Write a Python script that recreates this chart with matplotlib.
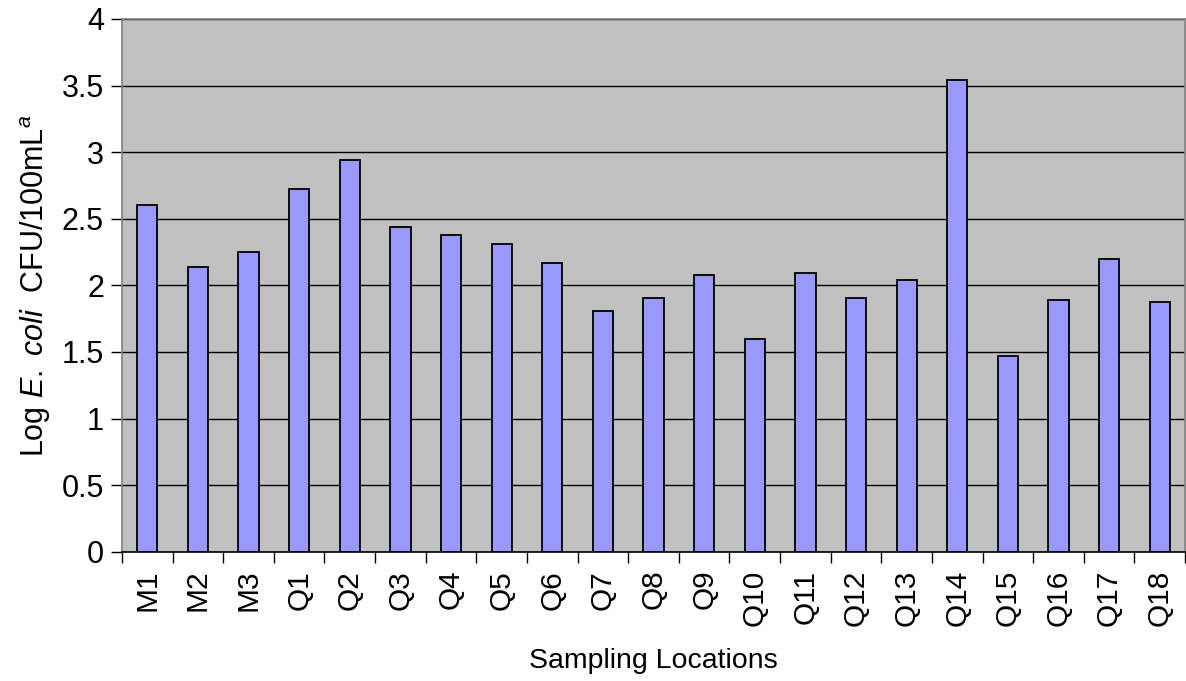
import matplotlib
matplotlib.use("Agg")
import matplotlib.pyplot as plt
import numpy as np

plt.rcParams["font.family"] = ["Liberation Sans", "DejaVu Sans"]
plt.rcParams["mathtext.fontset"] = "custom"
plt.rcParams["mathtext.rm"] = "Liberation Sans"
plt.rcParams["mathtext.it"] = "Liberation Sans:italic"

#  Data 
locations = ["M1", "M2", "M3", "Q1", "Q2", "Q3", "Q4", "Q5", "Q6", "Q7", "Q8",
             "Q9", "Q10", "Q11", "Q12", "Q13", "Q14", "Q15", "Q16", "Q17", "Q18"]
log_ecoli = [2.60, 2.14, 2.25, 2.72, 2.94, 2.44, 2.375, 2.31, 2.165, 1.805, 1.905,
             2.08, 1.595, 2.095, 1.905, 2.04, 3.54, 1.47, 1.89, 2.195, 1.875]

BAR = "#9999FF"
BG = "#C0C0C0"
BORDER = "#808080"

fig = plt.figure(figsize=(11.86, 6.81), dpi=100)
ax = fig.add_axes([122 / 1186, 1 - 551.7 / 681, 1 - 122 / 1186 - 0.0008, (551.7 - 19) / 681])
ax.set_facecolor(BG)

x = np.arange(len(locations))
ax.bar(x, log_ecoli, width=0.4, color=BAR, edgecolor="black", linewidth=1.3, zorder=3)

ax.set_xlim(-0.5, len(locations) - 0.5)
ax.set_ylim(0, 4)
ax.set_yticks(np.arange(0, 4.01, 0.5))
ax.set_yticklabels(["0", "0.5", "1", "1.5", "2", "2.5", "3", "3.5", "4"])
ax.grid(axis="y", color="black", linewidth=1, zorder=1)

# category labels centred, ticks on category boundaries
ax.set_xticks(x)
ax.set_xticklabels(locations, rotation=90)
ax.set_xticks(np.arange(-0.5, len(locations), 1), minor=True)
ax.tick_params(axis="x", which="major", length=0, pad=13, labelsize=21.5)
ax.tick_params(axis="x", which="minor", length=8, width=1, color="black", direction="out")
ax.tick_params(axis="y", length=8, width=1, color="black", direction="out", labelsize=22, pad=5)

for side in ["left", "top", "right"]:
    ax.spines[side].set_color(BORDER)
    ax.spines[side].set_linewidth(1.2)
ax.spines["bottom"].set_color("black")
ax.spines["bottom"].set_linewidth(1.2)
ax.spines["bottom"].set_zorder(4)

ax.set_xlabel("Sampling Locations", fontsize=20.5, labelpad=16)
ax.set_ylabel(r"Log $\mathit{E.\ coli}$  CFU/100mL$^{a}$", fontsize=22, labelpad=6)

fig.savefig("out.png", dpi=100, facecolor="white")
